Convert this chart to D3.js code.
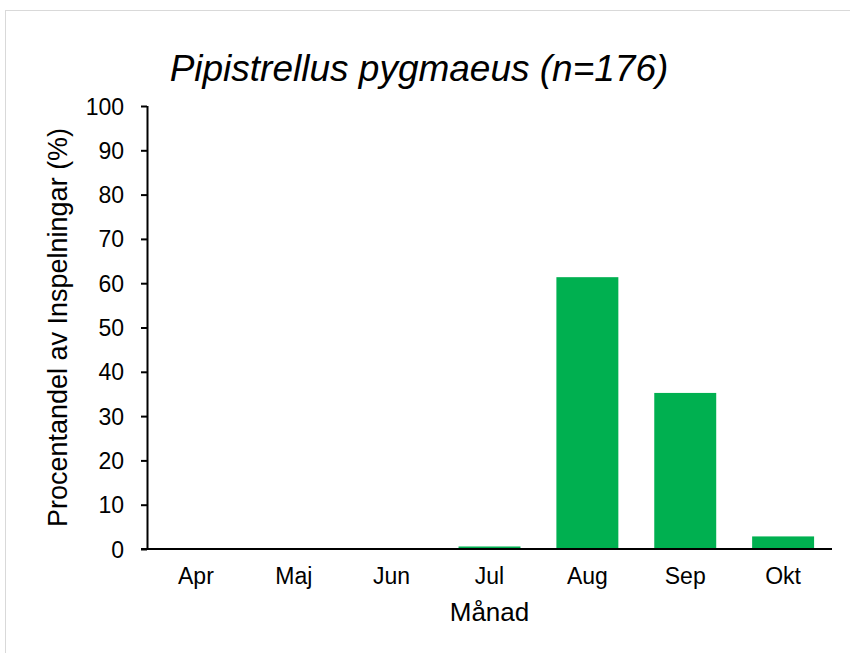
<!DOCTYPE html>
<html>
<head>
<meta charset="utf-8">
<script src="https://cdn.jsdelivr.net/npm/d3@7"></script>
<style>
  body { margin: 0; background: #fff; }
  svg { display: block; font-family: Arial, "Liberation Sans", sans-serif; }
</style>
</head>
<body>
<svg id="chart" width="850" height="653"></svg>
<script>
// data (share of 176 recordings per month)
let months = ["Apr", "Maj", "Jun", "Jul", "Aug", "Sep", "Okt"];
let percents = [0, 0, 0, 0.57, 61.36, 35.23, 2.84];
let yTicks = [0, 10, 20, 30, 40, 50, 60, 70, 80, 90, 100];

let titleText = "Pipistrellus pygmaeus (n=176)";
let xTitle = "Månad";
let yTitle = "Procentandel av Inspelningar (%)";

let svg = d3.select("#chart");

let plot = {left: 147, right: 832, top: 106, bottom: 549};

// outer chart frame
svg.append("rect")
    .attr("x", 5.5).attr("y", 10.5)
    .attr("width", 860).attr("height", 660)
    .attr("fill", "#fff")
    .attr("stroke", "#d9d9d9")
    .attr("stroke-width", 1);

let x = d3.scaleBand()
    .domain(months)
    .range([plot.left, plot.right])
    .paddingInner(0.367)
    .paddingOuter(0.183);

let y = d3.scaleLinear()
    .domain([0, 100])
    .range([plot.bottom, plot.top]);

// bars
svg.append("g")
    .selectAll("rect.bar")
    .data(months.map(function (m, i) { return {month: m, value: percents[i]}; }))
    .enter()
    .append("rect").classed("bar", true)
    .attr("x", function (d) { return x(d.month); })
    .attr("width", x.bandwidth())
    .attr("y", function (d) { return y(d.value); })
    .attr("height", function (d) { return y(0) - y(d.value); })
    .attr("fill", "#00b050");

// y axis
let yAxis = svg.append("g")
    .attr("transform", `translate(${plot.left},0)`)
    .call(d3.axisLeft(y).tickValues(yTicks).tickSize(6).tickPadding(17));
yAxis.select(".domain").attr("stroke", "#000").attr("stroke-width", 2)
    .attr("d", `M0.5,${plot.top}V${plot.bottom}`);
yAxis.selectAll(".tick line").attr("stroke", "#000").attr("stroke-width", 2);
yAxis.selectAll(".tick text")
    .attr("fill", "#000")
    .style("font-size", "23px")
    .attr("dy", "0.35em");

// x axis (baseline only, labels below)
let xAxis = svg.append("g")
    .attr("transform", `translate(0,${plot.bottom})`)
    .call(d3.axisBottom(x).tickSize(0).tickPadding(19));
xAxis.select(".domain").attr("stroke", "#000").attr("stroke-width", 2)
    .attr("d", `M${plot.left - 6},0H${plot.right}`);
xAxis.selectAll(".tick text")
    .attr("fill", "#000")
    .style("font-size", "23px");

// titles
svg.append("text")
    .attr("x", 419).attr("y", 81)
    .attr("text-anchor", "middle")
    .style("font-size", "37px")
    .style("font-style", "italic")
    .text(titleText);

svg.append("text")
    .attr("x", (plot.left + plot.right) / 2).attr("y", 621)
    .attr("text-anchor", "middle")
    .style("font-size", "26px")
    .text(xTitle);

svg.append("text")
    .attr("transform", `translate(67,${(plot.top + plot.bottom) / 2}) rotate(-90)`)
    .attr("text-anchor", "middle")
    .style("font-size", "27px")
    .text(yTitle);
</script>
</body>
</html>
